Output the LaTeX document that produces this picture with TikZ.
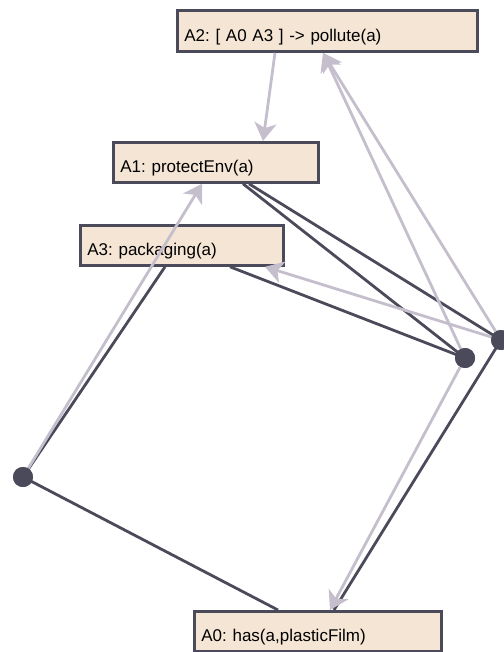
\documentclass[tikz,border=0pt]{standalone}
\usepackage{fontspec}
\setmainfont{Liberation Sans}
\usetikzlibrary{arrows.meta}
\definecolor{boxfill}{HTML}{F4E5D5}
\definecolor{dark}{HTML}{4B4A5A}
\definecolor{lgray}{HTML}{C5BECC}
\frenchspacing
\begin{document}
\begin{tikzpicture}[x=1pt,y=-1pt,
 box/.style={draw=dark, line width=2.8pt, fill=boxfill, rectangle, inner xsep=7pt, inner ysep=3pt, text depth=6.5pt, align=left, font=\fontsize{17}{19}\selectfont, anchor=north west},
 dot/.style={circle, fill=dark, inner sep=0pt, minimum size=20pt},
 dline/.style={draw=dark, line width=2.8pt},
 garrow/.style={draw=lgray, line width=2.8pt, -{Stealth[length=18pt,width=22pt,inset=5pt]}}]
\useasboundingbox (0,0) rectangle (503,652);
% boxes
\node[box, text width=286pt, text height=28.5pt] (A2) at (176,9) {A2: [ A0 A3 ] -> pollute(a)};
\node[box, text width=191pt, text height=27.5pt] (A1) at (112,141) {A1: protectEnv(a)};
\node[box, text width=189pt, text height=27.5pt] (A3) at (79,224) {A3: packaging(a)};
\node[box, text width=233pt, text height=27.5pt] (A0) at (193,610) {A0: has(a,plasticFilm)};
% dots
\node[dot] (d1) at (465,358) {};
\node[dot] (d2) at (501,340) {};
\node[dot] (d3) at (23,477) {};
% dark lines
\draw[dline] ([xshift=131pt]A1.south west) -- (d1.center);
\draw[dline] ([xshift=137pt]A1.south west) -- (d2.center);
\draw[dline] ([xshift=151pt]A3.south west) -- (d1.center);
\draw[dline] ([xshift=86pt]A3.south west) -- (d3.center);
\draw[dline] (d3.center) -- ([xshift=85pt]A0.north west);
\draw[dline] (d2.center) -- ([xshift=141pt]A0.north west);
% gray arrows
\draw[garrow] ([xshift=99pt]A2.south west) -- ([xshift=151pt]A1.north west);
\draw[garrow] (d1) -- ([xshift=147pt]A2.south west);
\draw[garrow] (d2) -- ([xshift=147pt]A2.south west);
\draw[garrow] (d3) -- ([xshift=90pt]A1.south west);
\draw[garrow] (d2) -- ([xshift=186pt]A3.south west);
\draw[garrow] (d1) -- ([xshift=137pt]A0.north west);
% redraw dots on top
\fill[dark] (d1.center) circle (10pt);
\fill[dark] (d2.center) circle (10pt);
\fill[dark] (d3.center) circle (10pt);
\end{tikzpicture}
\end{document}
